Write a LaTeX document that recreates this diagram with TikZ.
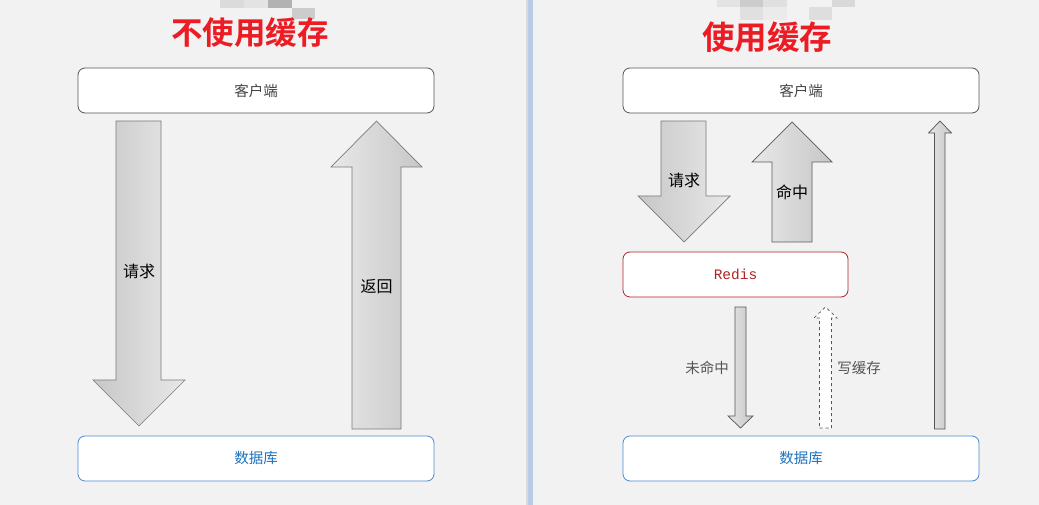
\documentclass[tikz,border=0pt]{standalone}
\usepackage{fontspec}
\setmainfont{Liberation Sans}
\newfontfamily\cjk{Noto Sans CJK SC}
\newfontfamily\cjkb{Noto Sans CJK SC Bold}
\newfontfamily\monof{Liberation Mono}
\definecolor{bg}{HTML}{F2F2F2}
\definecolor{titlered}{HTML}{EC1C24}
\definecolor{boxgray}{HTML}{555555}
\definecolor{dbblue}{HTML}{4A8AD4}
\definecolor{dbtext}{HTML}{1E73BE}
\definecolor{redisred}{HTML}{B22222}
\definecolor{arrowline}{HTML}{7A7A7A}
\definecolor{divblue}{HTML}{B8CCE8}
\begin{document}
\begin{tikzpicture}[x=1pt,y=-1pt,
  box/.style={draw=boxgray, fill=white, rounded corners=7pt, line width=0.8pt,
    minimum width=356pt, minimum height=45pt, inner sep=0pt,
    font=\cjk\fontsize{14.5}{16}\selectfont, text=boxgray!80!black},
  dbbox/.style={box, draw=dbblue, text=dbtext},
  redisbox/.style={box, draw=redisred, minimum width=225pt, text=redisred,
    font=\monof\fontsize{14.5}{16}\selectfont},
  title/.style={font=\cjkb\fontsize{31.5}{34}\selectfont, text=titlered, inner sep=0pt},
  bigarrow/.style={draw=arrowline, line width=0.7pt},
  shadeA/.style={left color=black!22, right color=black!9},
  shadeB/.style={left color=black!9, right color=black!22},
  thinarrow/.style={draw=boxgray, line width=0.7pt, left color=black!10, right color=black!22},
  dasharrow/.style={draw=boxgray, line width=0.7pt, fill=white, dashed},
  lbl/.style={font=\cjk\fontsize{16}{18}\selectfont, text=black, inner sep=0pt},
  slbl/.style={font=\cjk\fontsize{14.5}{16}\selectfont, text=boxgray, inner sep=0pt},
  mos/.style={draw=none}
]
\useasboundingbox (0,0) rectangle (1039,505);
\fill[bg] (0,0) rectangle (1039,505);
% divider
\fill[black!14] (526,0) rectangle (528,505);
\fill[divblue] (528,0) rectangle (533,505);
% mosaic patches
\fill[mos, fill=black!14] (220,0) rectangle (244,8);
\fill[mos, fill=black!11] (244,0) rectangle (268,8);
\fill[mos, fill=black!30] (268,0) rectangle (292,8);
\fill[mos, fill=black!20] (292,8) rectangle (315,19);
\fill[mos, fill=black!11] (717,0) rectangle (740,7);
\fill[mos, fill=black!20] (740,0) rectangle (763,7);
\fill[mos, fill=black!12] (763,0) rectangle (787,7);
\fill[mos, fill=black!15] (832,0) rectangle (855,7);
\fill[mos, fill=black!12] (740,7) rectangle (763,20);
\fill[mos, fill=black!8] (763,7) rectangle (787,20);
\fill[mos, fill=black!13] (809,7) rectangle (832,20);

% titles
\node[title] (t1) at (250,33) {不使用缓存};
\node[title, font=\cjkb\fontsize{32.5}{35}\selectfont] (t2) at (767,37) {使用缓存};

% left panel
\node[box] (c1) at (256,90.5) {客户端};
\node[dbbox] (d1) at (256,458.5) {数据库};
\draw[bigarrow, shadeA] (116,121) -- (161,121) -- (161,380) -- (185,380) -- (139,426) -- (93,380) -- (116,380) -- cycle;
\node[lbl] (q1) at (139,271) {请求};
\draw[bigarrow, shadeB] (352,429) -- (401,429) -- (401,167) -- (422,167) -- (376.5,121) -- (331,167) -- (352,167) -- cycle;
\node[lbl] (r1) at (376.5,287) {返回};

% right panel
\node[box] (c2) at (801,90.5) {客户端};
\node[redisbox] (rd) at (735.5,274.5) {Redis};
\node[dbbox] (d2) at (801,458.5) {数据库};
\draw[bigarrow, shadeA] (661,121) -- (706,121) -- (706,196) -- (730,196) -- (684,242) -- (638,196) -- (661,196) -- cycle;
\node[lbl] (q2) at (684,180) {请求};
\draw[bigarrow, draw=black!65, shadeB] (772,242) -- (812,242) -- (812,162) -- (832,162) -- (792,122) -- (752,162) -- (772,162) -- cycle;
\node[lbl] (h2) at (792,192) {命中};
\draw[thinarrow] (735,307) -- (746,307) -- (746,416) -- (753,416) -- (740.5,428) -- (728,416) -- (735,416) -- cycle;
\node[slbl] (m2) at (707,368) {未命中};
\draw[dasharrow] (819.5,428) -- (831.5,428) -- (831.5,318) -- (837,318) -- (825.5,307) -- (814,318) -- (819.5,318) -- cycle;
\node[slbl] (w2) at (859,368) {写缓存};
\draw[thinarrow] (934.5,429) -- (945,429) -- (945,133) -- (951.5,133) -- (940,121) -- (928.5,133) -- (934.5,133) -- cycle;
\end{tikzpicture}
\end{document}
